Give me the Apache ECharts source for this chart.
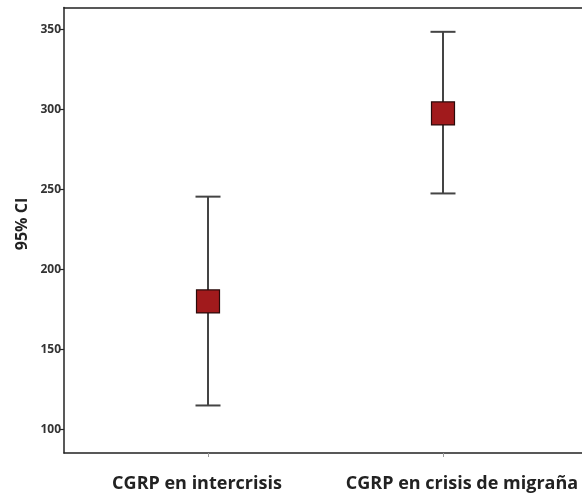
<!DOCTYPE html>
<html>
<head>
<meta charset="utf-8">
<script src="https://cdn.jsdelivr.net/npm/echarts@6/dist/echarts.min.js"></script>
<style>html,body{margin:0;padding:0;background:#fff;overflow:hidden}#c{width:582px;height:499px}</style>
</head>
<body>
<div id="c"></div>
<script>
var categories = ["CGRP en intercrisis", "CGRP en crisis de migraña"];
var means = [180, 297.5];
var lowerCI = [115, 247.5];
var upperCI = [245.5, 348.5];
var yTicks = [100, 150, 200, 250, 300, 350];

var chart = echarts.init(document.getElementById('c'));
var idx = categories.map(function (c, i) { return i; });
var errData = idx.map(function (i) { return [i, lowerCI[i], upperCI[i]]; });
var meanData = idx.map(function (i) { return [i, means[i]]; });
var lblFont = { fontFamily: 'Open Sans', fontWeight: 'bold', fontSize: 18, color: '#222' };

chart.setOption({
  animation: false,
  grid: {
    left: 64, top: 7.5, bottom: 46, right: 0,
    outerBoundsMode: 'none', containLabel: false, show: false
  },
  xAxis: [{
    type: 'value', min: -0.6128, max: 1.5915,
    splitLine: { show: false },
    axisLine: { show: true, onZero: false, lineStyle: { color: '#222', width: 1.5 } },
    axisTick: { show: true, length: 4, customValues: idx, lineStyle: { color: '#999' } },
    axisLabel: {
      show: true, customValues: idx, margin: 22,
      formatter: function (v) { var i = Math.round(v); return (i === 0 ? '{l|' : '{r|') + categories[i] + '}'; },
      rich: {
        l: Object.assign({ padding: [0, 22, 0, 0] }, lblFont),
        r: Object.assign({ padding: [0, 0, 0, 38] }, lblFont)
      }
    }
  }, {
    type: 'value', position: 'top', min: -0.6128, max: 1.5915,
    splitLine: { show: false },
    axisLine: { show: true, onZero: false, lineStyle: { color: '#222', width: 1.5 } },
    axisTick: { show: false }, axisLabel: { show: false }
  }],
  yAxis: {
    type: 'value', min: 85.3, max: 363.7,
    splitLine: { show: false },
    axisLine: { show: true, onZero: false, lineStyle: { color: '#222', width: 1.5 } },
    axisTick: { show: true, length: 5, customValues: yTicks, lineStyle: { color: '#222', width: 1.2 } },
    axisLabel: {
      customValues: yTicks, margin: 3,
      fontFamily: 'Open Sans', fontWeight: 'bold', fontSize: 12, color: '#333'
    }
  },
  graphic: [{
    type: 'text', x: 22, y: 224, rotation: Math.PI / 2,
    style: { text: '95% CI', fontFamily: 'Open Sans', fontWeight: 'bold', fontSize: 16, fill: '#222', align: 'center', verticalAlign: 'middle' }
  }],
  series: [{
    type: 'custom',
    data: errData,
    encode: { x: 0, y: [1, 2] },
    renderItem: function (params, api) {
      var x = api.value(0);
      var lo = api.coord([x, api.value(1)]);
      var hi = api.coord([x, api.value(2)]);
      var hw = 12.5;
      var st = { stroke: '#444', lineWidth: 2 };
      return {
        type: 'group',
        children: [
          { type: 'line', shape: { x1: lo[0], y1: lo[1], x2: hi[0], y2: hi[1] }, style: st },
          { type: 'line', shape: { x1: lo[0] - hw, y1: lo[1], x2: lo[0] + hw, y2: lo[1] }, style: st },
          { type: 'line', shape: { x1: hi[0] - hw, y1: hi[1], x2: hi[0] + hw, y2: hi[1] }, style: st }
        ]
      };
    },
    z: 2
  }, {
    type: 'scatter',
    data: meanData,
    symbol: 'rect',
    symbolSize: 23,
    itemStyle: { color: '#a11a1c', borderColor: '#2a0a0a', borderWidth: 1.2, opacity: 1 },
    z: 3
  }]
});
</script>
</body>
</html>
